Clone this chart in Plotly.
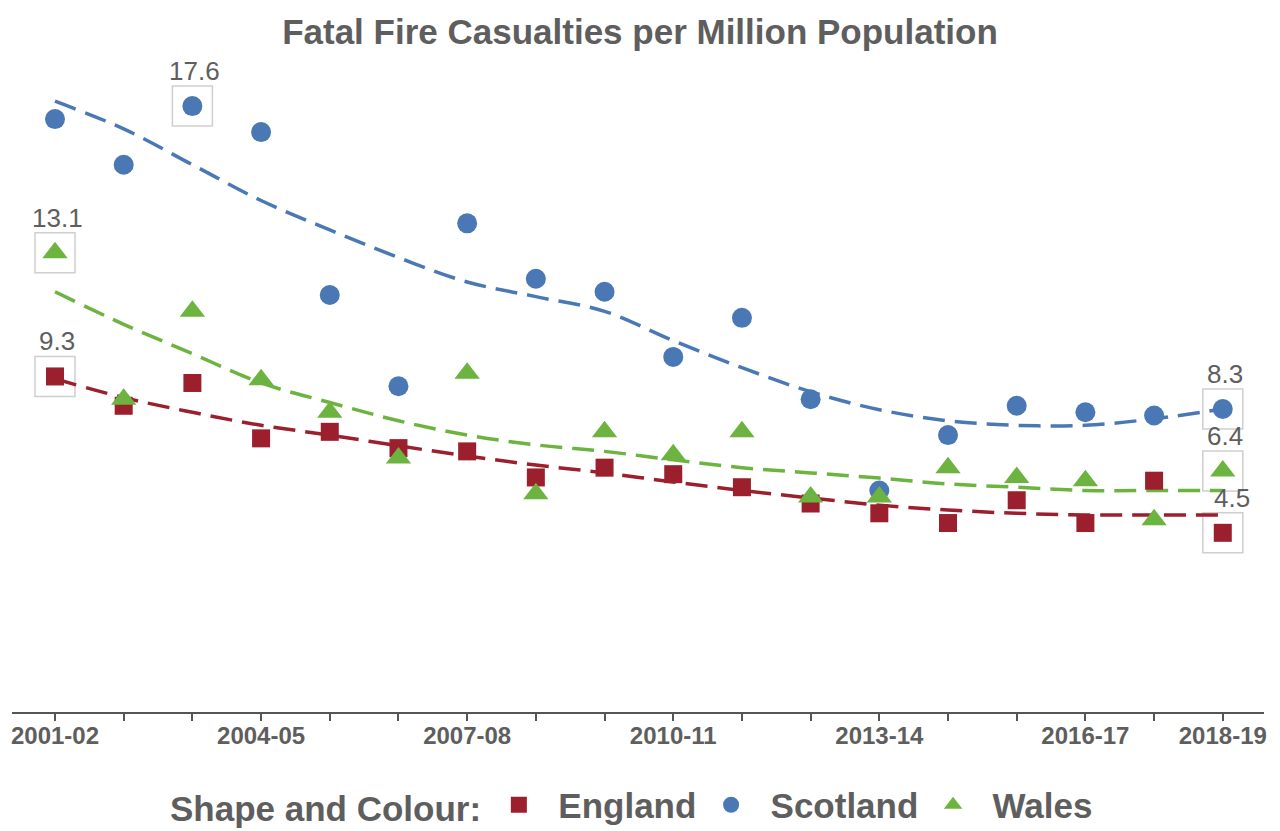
import plotly.graph_objects as go

# data
years = [
    "2001-02", "2002-03", "2003-04", "2004-05", "2005-06", "2006-07",
    "2007-08", "2008-09", "2009-10", "2010-11", "2011-12", "2012-13",
    "2013-14", "2014-15", "2015-16", "2016-17", "2017-18", "2018-19",
]
tick_text = [
    "2001-02", "", "", "2004-05", "", "", "2007-08", "", "", "2010-11",
    "", "", "2013-14", "", "", "2016-17", "", "2018-19",
]

england = [9.3, 8.4, 9.1, 7.4, 7.6, 7.1, 7.0, 6.2, 6.5, 6.3, 5.9, 5.4,
           5.1, 4.8, 5.5, 4.8, 6.1, 4.5]
scotland = [17.2, 15.8, 17.6, 16.8, 11.8, 9.0, 14.0, 12.3, 11.9, 9.9, 11.1,
            8.6, 5.8, 7.5, 8.4, 8.2, 8.1, 8.3]
wales = [13.1, 8.6, 11.3, 9.2, 8.2, 6.8, 9.4, 5.7, 7.6, 6.9, 7.6, 5.6,
         5.6, 6.5, 6.2, 6.1, 4.9, 6.4]

# smoothed trends
england_trend = [9.23, 8.65, 8.2, 7.8, 7.5, 7.17, 6.86, 6.58, 6.34, 6.06,
                 5.8, 5.57, 5.35, 5.2, 5.1, 5.05, 5.05, 5.05]
scotland_trend = [17.75, 16.9, 15.8, 14.7, 13.8, 12.95, 12.2, 11.75, 11.3,
                  10.4, 9.57, 8.83, 8.28, 7.94, 7.8, 7.8, 8.0, 8.3]
wales_trend = [11.9, 10.9, 10.0, 9.1, 8.5, 7.94, 7.5, 7.2, 7.0, 6.74, 6.5,
               6.34, 6.18, 6.0, 5.9, 5.8, 5.8, 5.8]

series = [
    ("England", england, england_trend, "#9b1f2c", "square", 18),
    ("Scotland", scotland, scotland_trend, "#4a78b5", "circle", 20),
    ("Wales", wales, wales_trend, "#6db33f", "triangle-up", 22),
]

grey = "#5e5e5e"
font = "Liberation Sans, Arial, sans-serif"
nbsp = "\u00a0"

W, H = 1280, 831

fig = go.Figure()

for name, values, trend, colour, symbol, size in series:
    fig.add_trace(
        go.Scatter(
            x=years,
            y=trend,
            mode="lines",
            line=dict(color=colour, width=3.5, dash="22px,10px", shape="spline"),
            showlegend=False,
            hoverinfo="skip",
        )
    )

for name, values, trend, colour, symbol, size in series:
    fig.add_trace(
        go.Scatter(
            x=years,
            y=values,
            mode="markers",
            name=nbsp * 2 + name + nbsp,
            marker=dict(color=colour, symbol=symbol, size=size),
        )
    )

# boxed labels for the max and latest values
for name, values, trend, colour, symbol, size in series:
    idx_max = values.index(max(values))
    idx_last = len(values) - 1
    for idx in (idx_max, idx_last):
        fig.add_shape(
            type="rect",
            xref="x",
            yref="y",
            xsizemode="pixel",
            ysizemode="pixel",
            xanchor=years[idx],
            yanchor=values[idx],
            x0=-20,
            x1=20,
            y0=-20,
            y1=20,
            line=dict(color="#cfcfcf", width=1.5),
            layer="below",
        )
        fig.add_annotation(
            x=years[idx],
            y=values[idx],
            text=f"{values[idx]:.1f}",
            showarrow=False,
            yshift=35,
            xshift=9 if name == "England" and idx == idx_last else 2,
            font=dict(family=font, size=26, color=grey),
        )

fig.update_layout(
    width=W,
    height=H,
    paper_bgcolor="white",
    plot_bgcolor="white",
    margin=dict(l=12, r=16, t=80, b=119),
    font=dict(family=font, color=grey),
    title=dict(
        text="<b>Fatal Fire Casualties per Million Population</b>",
        x=0.5,
        xanchor="center",
        y=1 - 32 / H,
        yanchor="middle",
        yref="container",
        font=dict(family=font, size=35, color=grey),
    ),
    legend=dict(
        orientation="h",
        x=0.5,
        xanchor="center",
        yref="container",
        y=26 / H,
        yanchor="middle",
        title=dict(
            text="<b>Shape and Colour:</b>" + nbsp,
            font=dict(family=font, size=35, color=grey),
            side="left",
        ),
        font=dict(family=font, size=35, color=grey, weight="bold"),
    ),
)

fig.update_xaxes(
    type="category",
    range=[-0.626, 17.6],
    tickvals=years,
    ticktext=tick_text,
    ticks="outside",
    ticklen=7,
    tickwidth=2,
    tickcolor="#555555",
    ticklabelstandoff=-6,
    showline=True,
    linecolor="#555555",
    linewidth=2,
    showgrid=False,
    zeroline=False,
    automargin=False,
    tickfont=dict(family=font, size=24, color=grey, weight="bold"),
)
fig.update_yaxes(
    range=[-1.0, 18.4],
    visible=False,
    showgrid=False,
    zeroline=False,
    automargin=False,
)

# drop the default 8px page margin so the figure fills the window
fig.write_html(
    "out.html",
    config={"displayModeBar": False},
    post_script="document.body.style.margin='0';",
)
